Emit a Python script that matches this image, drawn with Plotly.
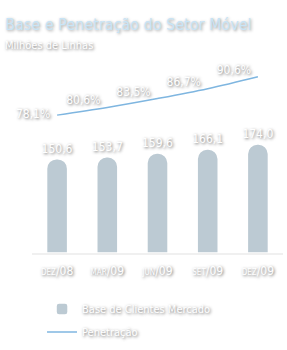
import plotly.graph_objects as go

categories = ["dez/08", "mar/09", "jun/09", "set/09", "dez/09"]
base_clientes = [150.6, 153.7, 159.6, 166.1, 174.0]
base_labels = ["150,6", "153,7", "159,6", "166,1", "174,0"]
penetracao = [78.1, 80.6, 83.5, 86.7, 90.6]
pen_labels = ["78,1%  ", "80,6%  ", "83,5%  ", "86,7%  ", "90,6%  "]
tick_labels = ["<span style='font-size:8px'>DEZ</span>/08",
               "<span style='font-size:8px'>MAR</span>/09",
               "<span style='font-size:8px'>JUN</span>/09",
               "<span style='font-size:8px'>SET</span>/09",
               "<span style='font-size:8px'>DEZ</span>/09"]

FONT = "Liberation Sans Narrow, DejaVu Sans Condensed, Arial Narrow, sans-serif"
SHADOW = "1px 1px 3px #666"

fig = go.Figure()
fig.add_trace(go.Bar(
    x=categories, y=base_clientes, name="Base de Clientes Mercado",
    legendgroup="a",
    width=0.42,
    marker=dict(color="#bccad3", line=dict(color="white", width=1.5), cornerradius=10),
    text=base_labels, textposition="outside", cliponaxis=False, constraintext="none",
    textangle=0,
    textfont=dict(color="white", size=12, family=FONT, shadow=SHADOW),
))
fig.add_trace(go.Scatter(
    x=categories, y=penetracao, name="Penetração", yaxis="y2",
    legendgroup="b",
    mode="lines+text", line=dict(color="#7fb6e0", width=1.5, shape="spline"),
    text=pen_labels,
    textposition=["middle left", "top left", "top left", "top left", "top left"],
    textfont=dict(color="white", size=12, family=FONT, shadow=SHADOW),
    cliponaxis=False,
))

fig.update_layout(
    width=287, height=350,
    margin=dict(l=32, r=4, t=60, b=94),
    paper_bgcolor="white", plot_bgcolor="white",
    font=dict(family=FONT, color="white", size=10),
    showlegend=True,
    legend=dict(x=0.04, y=-0.215, xanchor="left", yanchor="top",
                font=dict(color="white", size=11, family=FONT, shadow=SHADOW),
                bgcolor="rgba(0,0,0,0)", tracegroupgap=4, itemwidth=30),
    xaxis=dict(showgrid=False, showline=True, linecolor="#f0f0f0", linewidth=2,
               tickfont=dict(color="white", size=12, family=FONT, shadow=SHADOW),
               tickmode="array", tickvals=categories, ticktext=tick_labels,
               ticks="", range=[-0.5, 4.5], ticklabelstandoff=6),
    yaxis=dict(range=[0, 308], visible=False, showgrid=False),
    yaxis2=dict(range=[33.2, 96.05], visible=False, overlaying="y", showgrid=False),
    annotations=[
        dict(text="Base e Penetração do Setor Móvel", x=3, y=24, xref="paper", yref="paper",
             xanchor="left", yanchor="middle", showarrow=False,
             font=dict(color="#c8e4f6", size=16, family=FONT, shadow="1px 1px 3px #999")),
        dict(text="Milhões de Linhas", x=3, y=45, xref="paper", yref="paper",
             xanchor="left", yanchor="middle", showarrow=False,
             font=dict(color="white", size=11, family=FONT, shadow=SHADOW)),
    ],
)
# convert pixel positions of annotations to paper coords
pw, ph = 287 - 32 - 4, 350 - 60 - 94
for a in fig.layout.annotations:
    px, py = a.x, a.y
    a.x = (px - 32) / pw
    a.y = (256 - py) / ph

fig.write_html("out.html")
